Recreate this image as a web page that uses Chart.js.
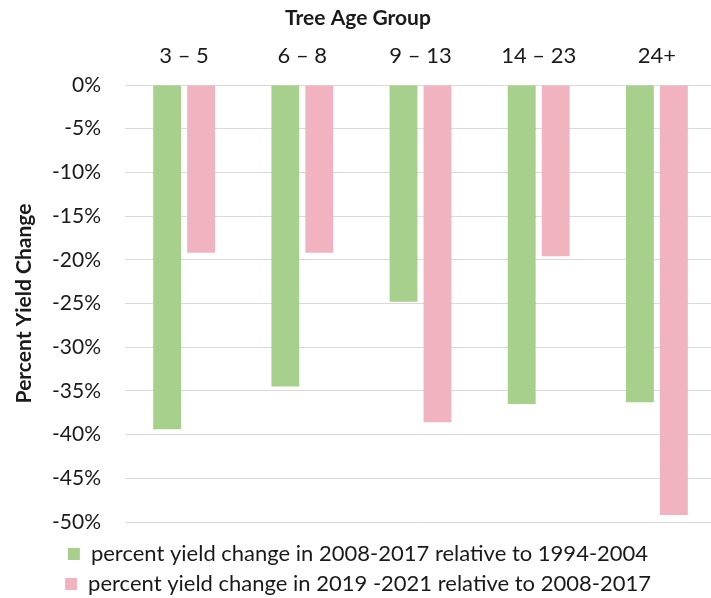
<!DOCTYPE html>
<html>
<head>
<meta charset="utf-8">
<script src="https://cdn.jsdelivr.net/npm/chart.js@4"></script>
<style>
  html, body { margin: 0; padding: 0; background: #fff; overflow: hidden; }
  #wrap { width: 718px; height: 598px; position: relative; }
</style>
</head>
<body>
<div id="wrap"><canvas id="c"></canvas></div>
<script>
const categories = ['3 – 5', '6 – 8', '9 – 13', '14 – 23', '24+'];
const series1Label = 'percent yield change in 2008-2017 relative to 1994-2004';
const series2Label = 'percent yield change in 2019 -2021 relative to 2008-2017';
const series1Values = [-39.4, -34.5, -24.8, -36.5, -36.3];
const series2Values = [-19.2, -19.2, -38.6, -19.6, -49.2];
const yTickMin = -50, yTickMax = 0, yTickStep = 5;

const FONT = 'Lato, "Open Sans", sans-serif';
const TEXT = '#1a1a1a';

new Chart(document.getElementById('c'), {
  type: 'bar',
  data: {
    labels: categories,
    datasets: [
      { label: series1Label, data: series1Values, backgroundColor: '#a8d08d' },
      { label: series2Label, data: series2Values, backgroundColor: '#f2b3c1' }
    ]
  },
  options: {
    responsive: true,
    maintainAspectRatio: false,
    animation: false,
    layout: { padding: { left: 0, right: 2, top: 0, bottom: -7 } },
    datasets: { bar: { barPercentage: 0.82, categoryPercentage: 0.575 } },
    plugins: {
      title: {
        display: true,
        text: 'Tree Age Group',
        color: TEXT,
        font: { family: FONT, size: 21, weight: 'bold', lineHeight: 1.2 },
        padding: { top: 6, bottom: 4 }
      },
      legend: {
        position: 'bottom',
        align: 'center',
        title: { display: true, text: ' ', font: { size: 1, lineHeight: 1 }, padding: { top: 12, bottom: 0 } },
        labels: {
          color: TEXT,
          font: { family: FONT, size: 22 },
          boxWidth: 12,
          boxHeight: 12,
          padding: 8
        }
      },
      tooltip: { enabled: false }
    },
    scales: {
      x: {
        position: 'top',
        grid: { display: false, drawTicks: false },
        border: { display: false },
        ticks: { color: TEXT, font: { family: FONT, size: 22 }, padding: 16, maxRotation: 0 },
        afterFit: (s) => { s.height = 49.8; }
      },
      y: {
        min: yTickMin,
        max: yTickMax,
        grid: { color: '#d9d9d9', lineWidth: 1, drawTicks: false },
        border: { display: false },
        ticks: {
          stepSize: yTickStep,
          color: TEXT,
          font: { family: FONT, size: 21 },
          padding: 24,
          callback: (v) => v + '%'
        },
        title: {
          display: true,
          text: 'Percent Yield Change',
          color: TEXT,
          font: { family: FONT, size: 21, weight: 'bold', lineHeight: 1.2 },
          padding: { top: 12, bottom: 0 }
        },
        afterFit: (s) => { s.width = 125; }
      }
    }
  }
});
</script>
</body>
</html>
